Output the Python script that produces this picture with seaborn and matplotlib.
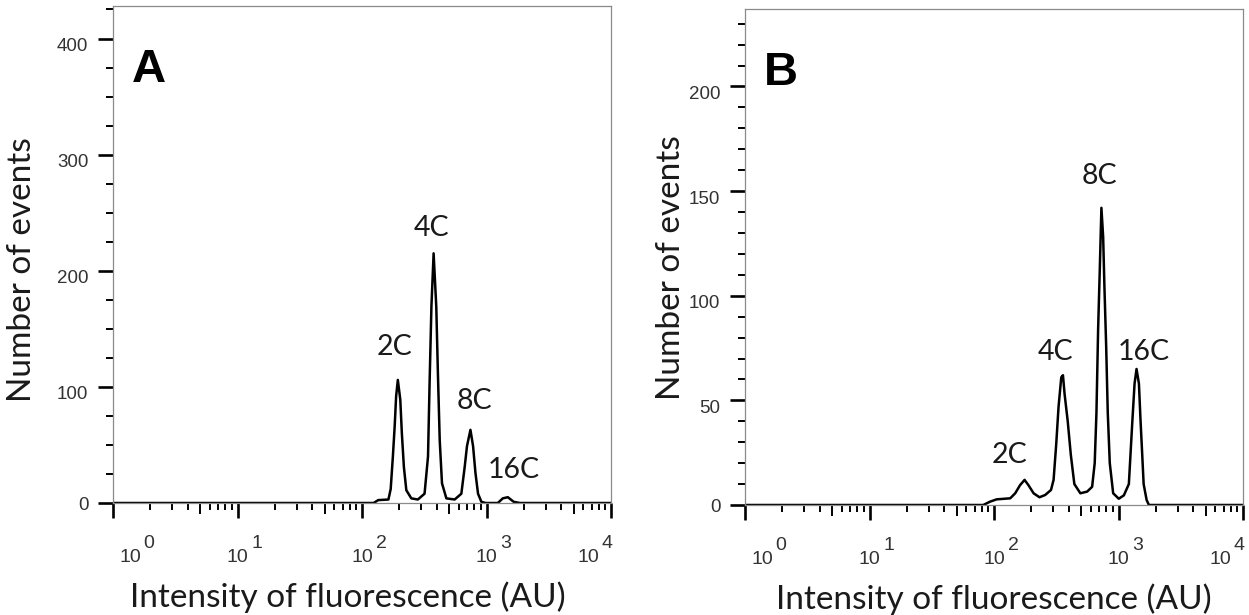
import matplotlib
matplotlib.use("Agg")
import matplotlib.pyplot as plt
from matplotlib.ticker import NullFormatter, FixedFormatter
import matplotlib.transforms as mtransforms
import seaborn as sns

# ---------------- data ----------------
# Panel A: fluorescence intensity (AU) and number of events
a_intensity = [1, 124, 135, 163, 170, 177, 183, 188, 194, 203,
               209, 217, 227, 249, 281, 318, 339, 349, 361, 376,
               395, 407, 421, 439, 476, 555, 628, 668, 697, 743,
               780, 815, 855, 910, 986, 1233, 1352, 1483, 1656, 1854,
               10000]
a_events = [0, 0, 2.5, 3, 12, 40, 66, 92, 106, 89,
            60, 31, 11, 4, 3, 8, 40, 103, 169, 215,
            169, 112, 54, 17, 4, 3, 8, 31, 49, 63,
            49, 26, 8, 1, 0, 0, 4, 5, 1, 0,
            0]

# Panel B
b_intensity = [1, 82, 93, 105, 135, 148, 162, 176, 189, 208,
               232, 258, 287, 301, 316, 330, 347, 358, 369, 391,
               414, 442, 494, 560, 614, 644, 665, 686, 707, 729,
               753, 771, 796, 820, 851, 906, 1005, 1104, 1211, 1289,
               1346, 1396, 1459, 1504, 1548, 1592, 1682, 1755, 10000]
b_events = [0, 0, 1.6, 2.7, 3.2, 5.6, 9.5, 12, 9.5, 5.6,
            3.7, 4.8, 7.2, 12, 29, 47, 61, 62, 53, 40,
            24, 10, 5.6, 6.4, 8.7, 20, 44, 84, 112, 142,
            128, 104, 76, 44, 20, 5.6, 3, 4.6, 10, 39,
            58, 65, 58, 40, 25, 10, 2.4, 0, 0]

# Peak labels (text, intensity, events)
a_peak_labels = ["2C", "4C", "8C", "16C"]
a_peak_x = [184, 362, 803, 1656]
a_peak_y = [134, 237, 88, 28]

b_peak_labels = ["2C", "4C", "8C", "16C"]
b_peak_x = [132, 310, 703, 1592]
b_peak_y = [24, 73, 157, 73]

a_yticks = [0, 100, 200, 300, 400]
b_yticks = [0, 50, 100, 150, 200]
a_yminor = [v for v in range(25, 426, 25) if v % 100]
b_yminor = [v for v in range(10, 231, 10) if v % 50]

decades = [1, 10, 100, 1000, 10000]
exponents = ["0", "1", "2", "3", "4"]
fives = [5, 50, 500, 5000]
minor_x = [m * 10 ** d for d in range(4) for m in (2, 3, 4, 6, 7, 8, 9)]

panel_letters = ["A", "B"]
x_title = "Intensity of fluorescence (AU)"
y_title = "Number of events"

# ---------------- style ----------------
sns.set_style("white")
plt.rcParams["font.family"] = ["Liberation Sans", "DejaVu Sans"]
LABEL_FONT = ["Lato", "DejaVu Sans"]
PX = 0.72  # points per pixel at dpi 100

fig = plt.figure(figsize=(12.49, 6.15), dpi=100)
axA = fig.add_axes([113 / 1249, 1 - 503 / 615, 498 / 1249, 497 / 615])
axB = fig.add_axes([745 / 1249, 1 - 505 / 615, 498 / 1249, 496 / 615])


def style_axes(ax, ytop, yticks, yminor, letter, xlab_x, ylab_x, ylab_y):
    ax.set_xscale("log")
    ax.set_xlim(1, 1e4)
    ax.set_ylim(0, ytop)
    for s in ax.spines.values():
        s.set_visible(True)
        s.set_color("#8a8a8a")
        s.set_linewidth(0.9)

    ax.set_yticks(yticks)
    ax.yaxis.set_major_formatter(FixedFormatter([str(v) for v in yticks]))
    ax.set_yticks(yminor, minor=True)

    xt = sorted(decades + fives)
    ax.set_xticks(xt)
    ax.set_xticklabels([""] * len(xt))
    ax.set_xticks(minor_x, minor=True)
    ax.xaxis.set_minor_formatter(NullFormatter())

    ax.tick_params(axis="both", which="major", direction="out",
                   length=15 * PX, width=1.9, color="black",
                   labelsize=13.5, labelcolor="#333333", pad=7)
    ax.tick_params(axis="both", which="minor", direction="out",
                   length=7 * PX, width=1.4, color="black")
    ax.tick_params(top=False, right=False, bottom=True, left=True)
    ax.tick_params(axis="both", which="minor", top=False, right=False,
                   bottom=True, left=True)

    for t, loc in zip(ax.xaxis.get_major_ticks(), xt):
        if loc in fives:
            t.tick1line.set_markersize(11 * PX)
            t.tick1line.set_markeredgewidth(1.4)

    # y tick labels sit slightly below their ticks (except 0)
    shift = mtransforms.ScaledTranslation(0, -6 / 100, fig.dpi_scale_trans)
    for lab, v in zip(ax.get_yticklabels(), yticks):
        if v != 0:
            lab.set_transform(lab.get_transform() + shift)

    # decade labels as 10 with raised exponent
    offs = [17, 0, 0, 0, -23]
    for val, ex, off in zip(decades, exponents, offs):
        ax.annotate("10", xy=(val, 0), xycoords=("data", "axes fraction"),
                    xytext=(off * PX, -55 * PX), textcoords="offset points",
                    ha="center", va="center", fontsize=14, color="#333333",
                    annotation_clip=False)
        ax.annotate(ex, xy=(val, 0), xycoords=("data", "axes fraction"),
                    xytext=((off + 19) * PX, -40 * PX), textcoords="offset points",
                    ha="center", va="center", fontsize=14, color="#333333",
                    annotation_clip=False)

    ax.set_xlabel(x_title, fontsize=24, family=LABEL_FONT, color="#1a1a1a")
    ax.xaxis.label.set_verticalalignment("center")
    ax.xaxis.set_label_coords(xlab_x, -0.19)
    ax.set_ylabel(y_title, fontsize=24, family=LABEL_FONT, color="#1a1a1a")
    ax.yaxis.label.set_verticalalignment("center")
    ax.yaxis.set_label_coords(ylab_x, ylab_y)

    ax.text(0.073, 0.871, letter, transform=ax.transAxes, fontsize=34,
            fontweight="bold", ha="center", va="center", color="black")


sns.lineplot(x=a_intensity, y=a_events, ax=axA, color="black", linewidth=1.8)
sns.lineplot(x=b_intensity, y=b_events, ax=axB, color="black", linewidth=1.8)

style_axes(axA, 428, a_yticks, a_yminor, panel_letters[0], 0.472, -0.183, 0.469)
style_axes(axB, 237, b_yticks, b_yminor, panel_letters[1], 0.50, -0.149, 0.478)

for lab, x, y in zip(a_peak_labels, a_peak_x, a_peak_y):
    axA.text(x, y, lab, ha="center", va="center", fontsize=20.5,
             family=LABEL_FONT, color="#1a1a1a")
for lab, x, y in zip(b_peak_labels, b_peak_x, b_peak_y):
    axB.text(x, y, lab, ha="center", va="center", fontsize=20.5,
             family=LABEL_FONT, color="#1a1a1a")

fig.savefig("out.png", dpi=100)
